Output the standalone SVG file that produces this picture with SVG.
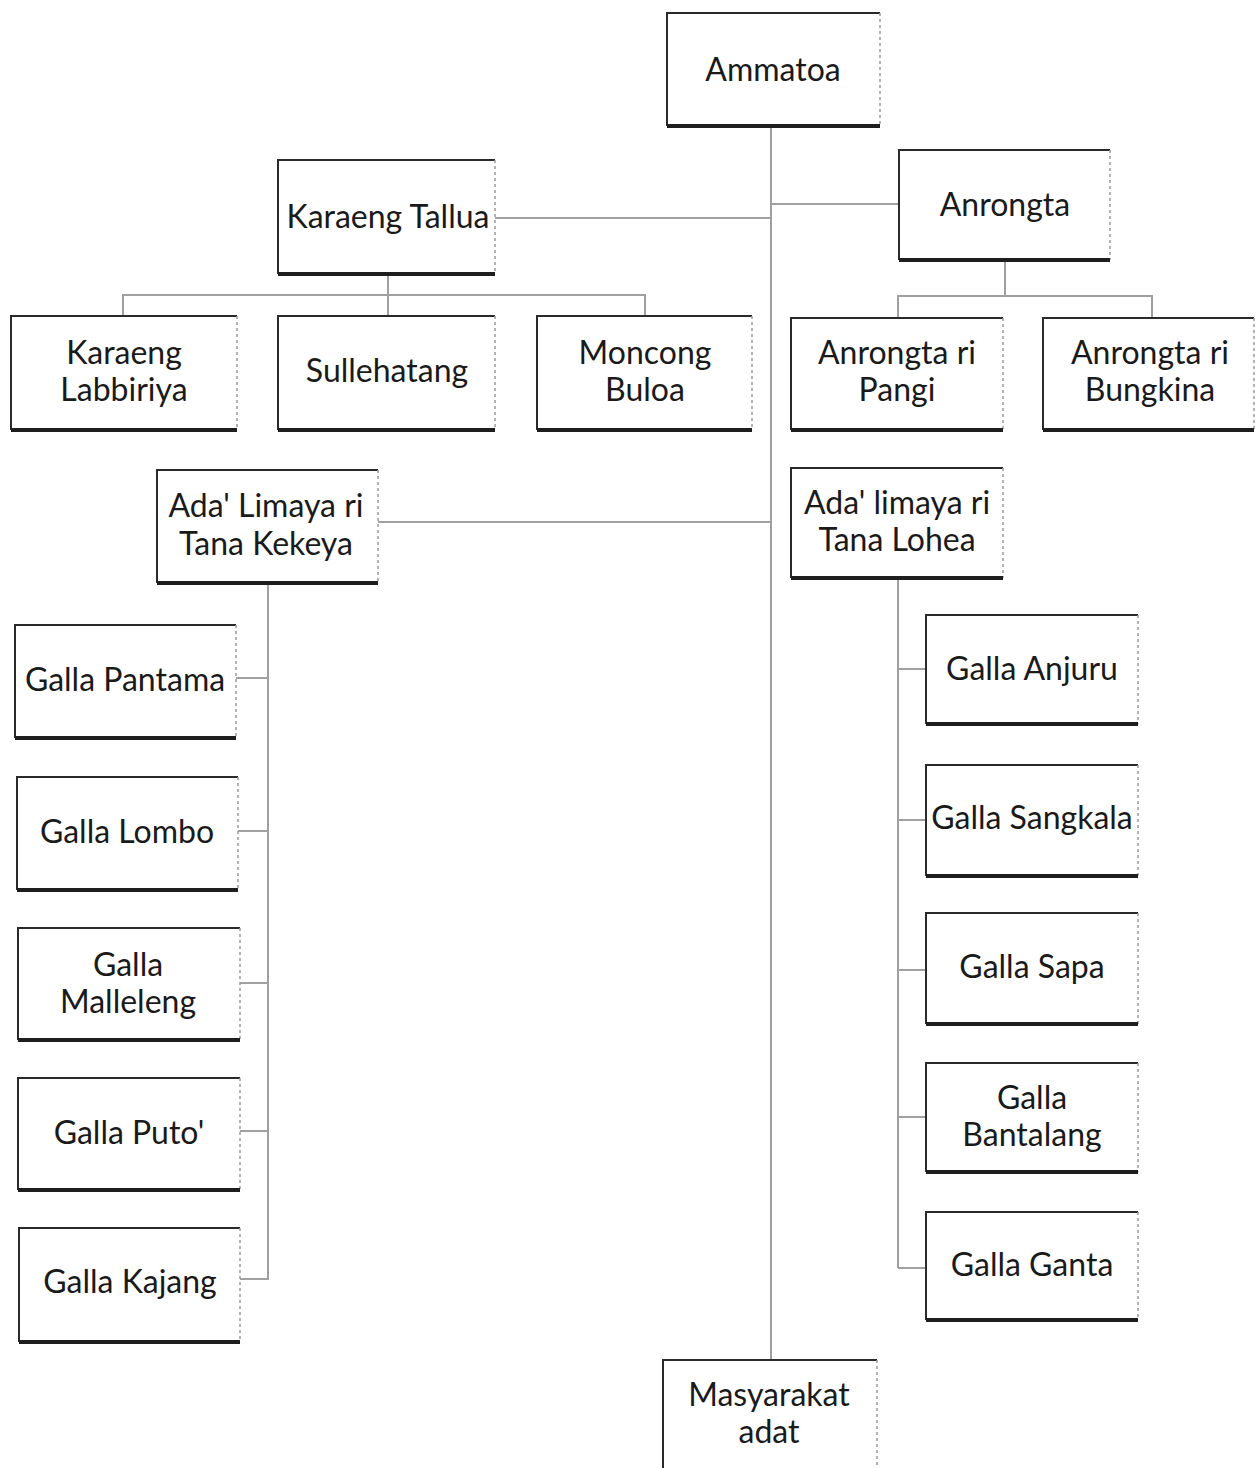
<svg xmlns="http://www.w3.org/2000/svg" width="1255" height="1468" viewBox="0 0 1255 1468">
<style>
.bg{fill:#fff;stroke:none}
.tl{fill:none;stroke:#2a2a2a;stroke-width:2}
.bt{fill:none;stroke:#1e1e1e;stroke-width:4}
.rt{fill:none;stroke:#9a9a9a;stroke-width:1.5;stroke-dasharray:3 3}
.c{fill:none;stroke:#a0a0a0;stroke-width:2}
text{font-family:Lato,"Open Sans","Liberation Sans",sans-serif;font-size:32px;fill:#1a1a1a;text-anchor:middle;dominant-baseline:central}
</style>
<rect width="1255" height="1468" fill="#fff"/>
<g id="connectors">
<path class="c" d="M771,126 V1360"/>
<path class="c" d="M495,218 H771"/>
<path class="c" d="M771,204 H899"/>
<path class="c" d="M388,274 V295 M123,316 V295 H645 V316 M388,295 V316"/>
<path class="c" d="M1005,260 V296 M898,318 V296 H1152 V318"/>
<path class="c" d="M378,522 H771"/>
<path class="c" d="M268,583 V1280"/>
<path class="c" d="M236,678 H268 M238,831 H268 M240,983 H268 M240,1131 H268 M240,1279 H268"/>
<path class="c" d="M898,578 V1268"/>
<path class="c" d="M898,669 H926 M898,820 H926 M898,970 H926 M898,1117 H926 M898,1268 H926"/>
</g>
<g id="ammatoa"><rect class="bg" x="667" y="13" width="213" height="113"/><path class="tl" d="M667,126 V13 H880"/><path class="rt" d="M880,13 V126"/><path class="bt" d="M667,126 H880"/><text x="773" y="68">Ammatoa</text></g>
<g id="karaeng-tallua"><rect class="bg" x="278" y="160" width="217" height="114"/><path class="tl" d="M278,274 V160 H495"/><path class="rt" d="M495,160 V274"/><path class="bt" d="M278,274 H495"/><text x="388" y="215">Karaeng Tallua</text></g>
<g id="anrongta"><rect class="bg" x="899" y="150" width="211" height="110"/><path class="tl" d="M899,260 V150 H1110"/><path class="rt" d="M1110,150 V260"/><path class="bt" d="M899,260 H1110"/><text x="1005" y="203">Anrongta</text></g>
<g id="karaeng-labbiriya"><rect class="bg" x="11" y="316" width="226" height="114"/><path class="tl" d="M11,430 V316 H237"/><path class="rt" d="M237,316 V430"/><path class="bt" d="M11,430 H237"/><text x="124" y="351">Karaeng</text><text x="124" y="388">Labbiriya</text></g>
<g id="sullehatang"><rect class="bg" x="278" y="316" width="217" height="114"/><path class="tl" d="M278,430 V316 H495"/><path class="rt" d="M495,316 V430"/><path class="bt" d="M278,430 H495"/><text x="387" y="369">Sullehatang</text></g>
<g id="moncong-buloa"><rect class="bg" x="537" y="316" width="215" height="114"/><path class="tl" d="M537,430 V316 H752"/><path class="rt" d="M752,316 V430"/><path class="bt" d="M537,430 H752"/><text x="645" y="351">Moncong</text><text x="645" y="388">Buloa</text></g>
<g id="anrongta-ri-pangi"><rect class="bg" x="791" y="318" width="212" height="112"/><path class="tl" d="M791,430 V318 H1003"/><path class="rt" d="M1003,318 V430"/><path class="bt" d="M791,430 H1003"/><text x="897" y="351">Anrongta ri</text><text x="897" y="388">Pangi</text></g>
<g id="anrongta-ri-bungkina"><rect class="bg" x="1043" y="318" width="211" height="112"/><path class="tl" d="M1043,430 V318 H1254"/><path class="rt" d="M1254,318 V430"/><path class="bt" d="M1043,430 H1254"/><text x="1150" y="351">Anrongta ri</text><text x="1150" y="388">Bungkina</text></g>
<g id="ada-limaya-kekeya"><rect class="bg" x="157" y="470" width="221" height="113"/><path class="tl" d="M157,583 V470 H378"/><path class="rt" d="M378,470 V583"/><path class="bt" d="M157,583 H378"/><text x="266" y="504">Ada' Limaya ri</text><text x="266" y="542">Tana Kekeya</text></g>
<g id="ada-limaya-lohea"><rect class="bg" x="791" y="468" width="212" height="110"/><path class="tl" d="M791,578 V468 H1003"/><path class="rt" d="M1003,468 V578"/><path class="bt" d="M791,578 H1003"/><text x="897" y="501">Ada' limaya ri</text><text x="897" y="538">Tana Lohea</text></g>
<g id="galla-pantama"><rect class="bg" x="15" y="625" width="221" height="113"/><path class="tl" d="M15,738 V625 H236"/><path class="rt" d="M236,625 V738"/><path class="bt" d="M15,738 H236"/><text x="125" y="678">Galla Pantama</text></g>
<g id="galla-lombo"><rect class="bg" x="17" y="777" width="221" height="113"/><path class="tl" d="M17,890 V777 H238"/><path class="rt" d="M238,777 V890"/><path class="bt" d="M17,890 H238"/><text x="127" y="830">Galla Lombo</text></g>
<g id="galla-malleleng"><rect class="bg" x="18" y="928" width="222" height="112"/><path class="tl" d="M18,1040 V928 H240"/><path class="rt" d="M240,928 V1040"/><path class="bt" d="M18,1040 H240"/><text x="128" y="963">Galla</text><text x="128" y="1000">Malleleng</text></g>
<g id="galla-puto"><rect class="bg" x="18" y="1078" width="222" height="112"/><path class="tl" d="M18,1190 V1078 H240"/><path class="rt" d="M240,1078 V1190"/><path class="bt" d="M18,1190 H240"/><text x="129" y="1131">Galla Puto'</text></g>
<g id="galla-kajang"><rect class="bg" x="19" y="1228" width="221" height="114"/><path class="tl" d="M19,1342 V1228 H240"/><path class="rt" d="M240,1228 V1342"/><path class="bt" d="M19,1342 H240"/><text x="130" y="1280">Galla Kajang</text></g>
<g id="galla-anjuru"><rect class="bg" x="926" y="615" width="212" height="109"/><path class="tl" d="M926,724 V615 H1138"/><path class="rt" d="M1138,615 V724"/><path class="bt" d="M926,724 H1138"/><text x="1032" y="667">Galla Anjuru</text></g>
<g id="galla-sangkala"><rect class="bg" x="926" y="765" width="212" height="111"/><path class="tl" d="M926,876 V765 H1138"/><path class="rt" d="M1138,765 V876"/><path class="bt" d="M926,876 H1138"/><text x="1032" y="816">Galla Sangkala</text></g>
<g id="galla-sapa"><rect class="bg" x="926" y="913" width="212" height="111"/><path class="tl" d="M926,1024 V913 H1138"/><path class="rt" d="M1138,913 V1024"/><path class="bt" d="M926,1024 H1138"/><text x="1032" y="965">Galla Sapa</text></g>
<g id="galla-bantalang"><rect class="bg" x="926" y="1063" width="212" height="109"/><path class="tl" d="M926,1172 V1063 H1138"/><path class="rt" d="M1138,1063 V1172"/><path class="bt" d="M926,1172 H1138"/><text x="1032" y="1096">Galla</text><text x="1032" y="1133">Bantalang</text></g>
<g id="galla-ganta"><rect class="bg" x="926" y="1212" width="212" height="108"/><path class="tl" d="M926,1320 V1212 H1138"/><path class="rt" d="M1138,1212 V1320"/><path class="bt" d="M926,1320 H1138"/><text x="1032" y="1263">Galla Ganta</text></g>
<g id="masyarakat-adat"><rect class="bg" x="663" y="1360" width="214" height="108"/><path class="tl" d="M663,1468 V1360 H877"/><path class="rt" d="M877,1360 V1468"/><text x="769" y="1393">Masyarakat</text><text x="769" y="1430">adat</text></g>
</svg>
